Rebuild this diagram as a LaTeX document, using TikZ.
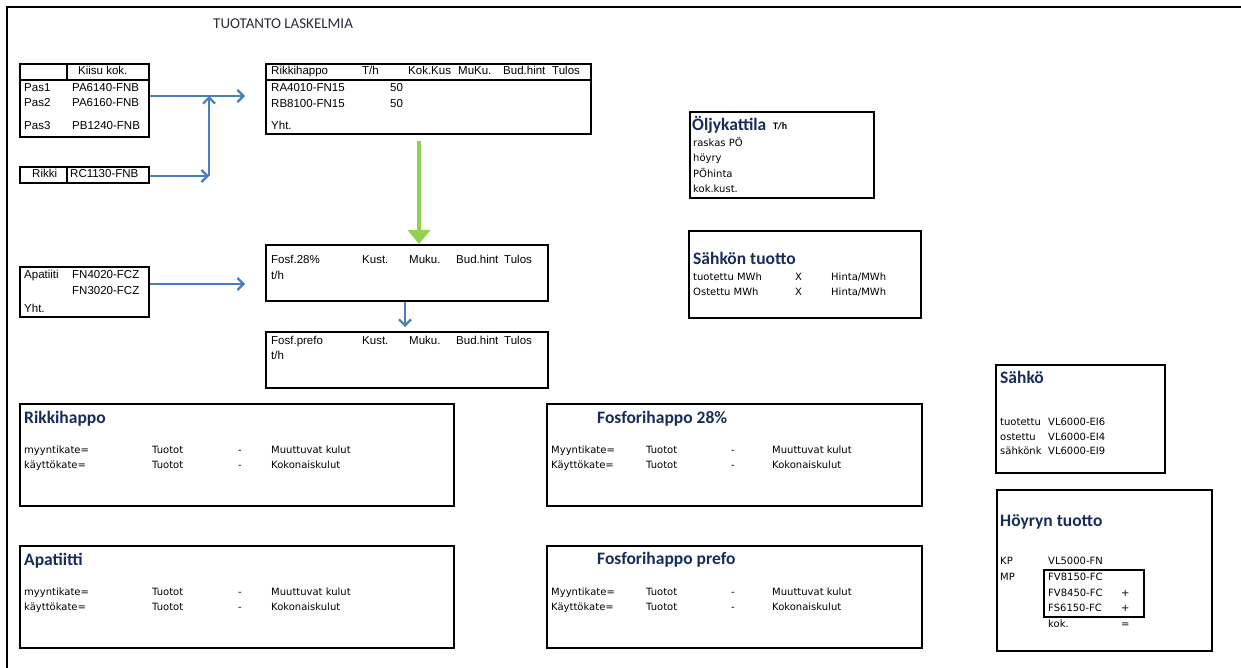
\documentclass[tikz,border=0pt]{standalone}
\usepackage{fontspec}
\setmainfont{Liberation Sans}
\newfontfamily\calf{Carlito}
\newfontfamily\tahf{DejaVu Sans}
\usetikzlibrary{arrows.meta}
\definecolor{headblue}{RGB}{23,44,90}
\definecolor{titlecol}{RGB}{40,44,60}
\definecolor{arrblue}{RGB}{74,126,187}
\definecolor{agreen}{RGB}{146,208,80}
\tikzset{
  box/.style={draw, line width=2.4pt, anchor=north west, inner sep=0pt},
  grid/.style={line width=2.2pt},
  tb/.style={font=\fontsize{11.5}{13}\selectfont, anchor=west, inner sep=0pt, text height=7pt, text depth=0pt},
  ts/.style={font=\tahf\fontsize{10}{12}\selectfont, anchor=west, inner sep=0pt, text height=7pt, text depth=0pt},
  hd/.style={font=\calf\bfseries\fontsize{17.5}{20}\selectfont, text=headblue, anchor=west, inner sep=0pt, text height=11pt, text depth=0pt},
  arr/.style={draw=arrblue, line width=2.2pt, -{Straight Barb[length=6pt,width=12pt,line width=2.2pt]}},
  garr/.style={draw=agreen, line width=4.5pt, -{Triangle[length=14pt,width=22pt]}},
}
\begin{document}
\begin{tikzpicture}[x=1pt,y=-1pt]
\useasboundingbox (0,0) rectangle (1241,668);
% outer frame
\draw[line width=2.5pt] (7,668) -- (7,7) -- (1241,7);
\node[anchor=west, font=\calf\fontsize{15}{18}\selectfont, text=titlecol, inner sep=0pt, text height=10pt, text depth=0pt] (title) at (213,24) {TUOTANTO LASKELMIA};

% ---------- Kiisu ----------
\node[box, minimum width=129pt, minimum height=73pt] (kiisu) at (19,63) {};
\draw[grid] (19,80) -- (148,80);
\draw[grid] (67,63) -- (67,80);
\node[tb] (kk) at (78,71) {Kiisu kok.};
\node[tb] (p1) at (24,88) {Pas1};
\node[tb] (p1c) at (72,88) {PA6140-FNB};
\node[tb] (p2) at (24,103) {Pas2};
\node[tb] (p2c) at (72,103) {PA6160-FNB};
\node[tb] (p3) at (24,126) {Pas3};
\node[tb] (p3c) at (72,126) {PB1240-FNB};

% ---------- Rikki ----------
\node[box, minimum width=129pt, minimum height=16pt] (rikki) at (19,166) {};
\draw[grid] (67,166) -- (67,182);
\node[tb] (rk) at (32,174) {Rikki};
\node[tb] (rkc) at (70,174) {RC1130-FNB};

% ---------- Rikkihappo table ----------
\node[box, minimum width=325pt, minimum height=70pt] (rkh) at (265,63) {};
\draw[grid] (265,80) -- (590,80);
\node[tb] (h1) at (271,71) {Rikkihappo};
\node[tb] (h2) at (362,71) {T/h};
\node[tb] (h3) at (408,71) {Kok.Kus};
\node[tb] (h4) at (458,71) {MuKu.};
\node[tb] (h5) at (503,71) {Bud.hint};
\node[tb] (h6) at (552,71) {Tulos};
\node[tb] (r1) at (271,88) {RA4010-FN15};
\node[tb] (r1v) at (390,88) {50};
\node[tb] (r2) at (271,104) {RB8100-FN15};
\node[tb] (r2v) at (390,104) {50};
\node[tb] (r3) at (271,126) {Yht.};

% ---------- Apatiiti ----------
\node[box, minimum width=129pt, minimum height=50pt] (apat) at (19,266) {};
\node[tb] (a1) at (24,275) {Apatiiti};
\node[tb] (a1c) at (72,275) {FN4020-FCZ};
\node[tb] (a2c) at (72,291) {FN3020-FCZ};
\node[tb] (a3) at (24,309) {Yht.};

% ---------- Fosf.28% ----------
\node[box, minimum width=282pt, minimum height=56pt] (f28) at (265,244) {};
\node[tb] (f1) at (271,260) {Fosf.28\%};
\node[tb] (f2) at (362,260) {Kust.};
\node[tb] (f3) at (409,260) {Muku.};
\node[tb] (f4) at (456,260) {Bud.hint};
\node[tb] (f5) at (504,260) {Tulos};
\node[tb] (f6) at (271,276) {t/h};

% ---------- Fosf.prefo ----------
\node[box, minimum width=282pt, minimum height=56pt] (prefo) at (265,331) {};
\node[tb] (g1) at (271,341) {Fosf.prefo};
\node[tb] (g2) at (362,341) {Kust.};
\node[tb] (g3) at (409,341) {Muku.};
\node[tb] (g4) at (456,341) {Bud.hint};
\node[tb] (g5) at (504,341) {Tulos};
\node[tb] (g6) at (271,356) {t/h};

% ---------- Oljykattila ----------
\node[box, minimum width=184pt, minimum height=86pt] (olj) at (689,111) {};
\node[hd, text=headblue] (oljt) at (692,125) {Öljykattila};
\node[anchor=west, inner sep=0pt, font=\calf\bfseries\fontsize{10}{12}\selectfont, text height=7pt, text depth=0pt] (oljth) at (773,126) {T/h};
\node[ts] (o1) at (693,143) {raskas PÖ};
\node[ts] (o2) at (693,158) {höyry};
\node[ts] (o3) at (693,174) {PÖhinta};
\node[ts] (o4) at (693,189) {kok.kust.};

% ---------- Sahkon tuotto ----------
\node[box, minimum width=232pt, minimum height=87pt] (stu) at (688,230) {};
\node[hd] (stut) at (693,259) {Sähkön tuotto};
\node[ts] (s1) at (693,277) {tuotettu MWh};
\node[ts] (s1x) at (795,277) {X};
\node[ts] (s1h) at (831,277) {Hinta/MWh};
\node[ts] (s2) at (693,292) {Ostettu MWh};
\node[ts] (s2x) at (795,292) {X};
\node[ts] (s2h) at (831,292) {Hinta/MWh};

% ---------- summary boxes ----------
\node[box, minimum width=434pt, minimum height=102pt] (sum1) at (19,403) {};
\node[hd] (sum1t) at (24,418) {Rikkihappo};
\node[ts] (m1a) at (24,450) {myyntikate=};
\node[ts] (m1b) at (152,450) {Tuotot};
\node[ts] (m1c) at (238,450) {-};
\node[ts] (m1d) at (271,450) {Muuttuvat kulut};
\node[ts] (k1a) at (24,465) {käyttökate=};
\node[ts] (k1b) at (152,465) {Tuotot};
\node[ts] (k1c) at (238,465) {-};
\node[ts] (k1d) at (271,465) {Kokonaiskulut};

\node[box, minimum width=375pt, minimum height=102pt] (sum2) at (546,403) {};
\node[hd] (sum2t) at (597,418) {Fosforihappo 28\%};
\node[ts] (m2a) at (551,450) {Myyntikate=};
\node[ts] (m2b) at (646,450) {Tuotot};
\node[ts] (m2c) at (731,450) {-};
\node[ts] (m2d) at (772,450) {Muuttuvat kulut};
\node[ts] (k2a) at (551,465) {Käyttökate=};
\node[ts] (k2b) at (646,465) {Tuotot};
\node[ts] (k2c) at (731,465) {-};
\node[ts] (k2d) at (772,465) {Kokonaiskulut};

\node[box, minimum width=434pt, minimum height=102pt] (sum3) at (19,545) {};
\node[hd] (sum3t) at (24,560) {Apatiitti};
\node[ts] (m3a) at (24,592) {myyntikate=};
\node[ts] (m3b) at (152,592) {Tuotot};
\node[ts] (m3c) at (238,592) {-};
\node[ts] (m3d) at (271,592) {Muuttuvat kulut};
\node[ts] (k3a) at (24,607) {käyttökate=};
\node[ts] (k3b) at (152,607) {Tuotot};
\node[ts] (k3c) at (238,607) {-};
\node[ts] (k3d) at (271,607) {Kokonaiskulut};

\node[box, minimum width=375pt, minimum height=102pt] (sum4) at (546,545) {};
\node[hd] (sum4t) at (597,559) {Fosforihappo prefo};
\node[ts] (m4a) at (551,592) {Myyntikate=};
\node[ts] (m4b) at (646,592) {Tuotot};
\node[ts] (m4c) at (731,592) {-};
\node[ts] (m4d) at (772,592) {Muuttuvat kulut};
\node[ts] (k4a) at (551,607) {Käyttökate=};
\node[ts] (k4b) at (646,607) {Tuotot};
\node[ts] (k4c) at (731,607) {-};
\node[ts] (k4d) at (772,607) {Kokonaiskulut};

% ---------- Sahko ----------
\node[box, minimum width=169pt, minimum height=108pt] (sahko) at (995,364) {};
\node[hd] (sahkot) at (1000,378) {Sähkö};
\node[ts] (e1) at (1000,422) {tuotettu};
\node[ts] (e1c) at (1048,422) {VL6000-EI6};
\node[ts] (e2) at (1000,437) {ostettu};
\node[ts] (e2c) at (1048,437) {VL6000-EI4};
\node[ts] (e3) at (1000,451) {sähkönk};
\node[ts] (e3c) at (1048,451) {VL6000-EI9};

% ---------- Hoyryn tuotto ----------
\node[box, minimum width=215pt, minimum height=161pt] (hoy) at (996,489) {};
\node[hd] (hoyt) at (1000,521) {Höyryn tuotto};
\node[box, line width=2.2pt, minimum width=100pt, minimum height=47pt] (mpbox) at (1043,569) {};
\node[ts] (y1) at (1000,561) {KP};
\node[ts] (y1c) at (1048,561) {VL5000-FN};
\node[ts] (y2) at (1000,577) {MP};
\node[ts] (y2c) at (1048,577) {FV8150-FC};
\node[ts] (y3c) at (1048,593) {FV8450-FC};
\node[ts] (y3p) at (1121,593) {+};
\node[ts] (y4c) at (1048,608) {FS6150-FC};
\node[ts] (y4p) at (1121,608) {+};
\node[ts] (y5c) at (1048,624) {kok.};
\node[ts] (y5e) at (1121,624) {=};

% ---------- connectors ----------
\coordinate (rkin) at (245,96);
\coordinate (jtop) at (209,96);
\coordinate (jbot) at (209,176);
\coordinate (fin) at (245,284);
\coordinate (xa) at (405,0);
\coordinate (xg) at (419,0);
\draw[arr] (kiisu.east |- rkin) -- (rkin);
\draw[arr] (rikki.east |- jbot) -- (jbot);
\draw[arr] (jbot) -- (jtop);
\draw[arr] (apat.east |- fin) -- (fin);
\draw[arr, shorten >=4pt] (f28.south -| xa) -- (prefo.north -| xa);
\draw[garr, shorten <=6pt] (rkh.south -| xg) -- (f28.north -| xg);
\end{tikzpicture}
\end{document}
